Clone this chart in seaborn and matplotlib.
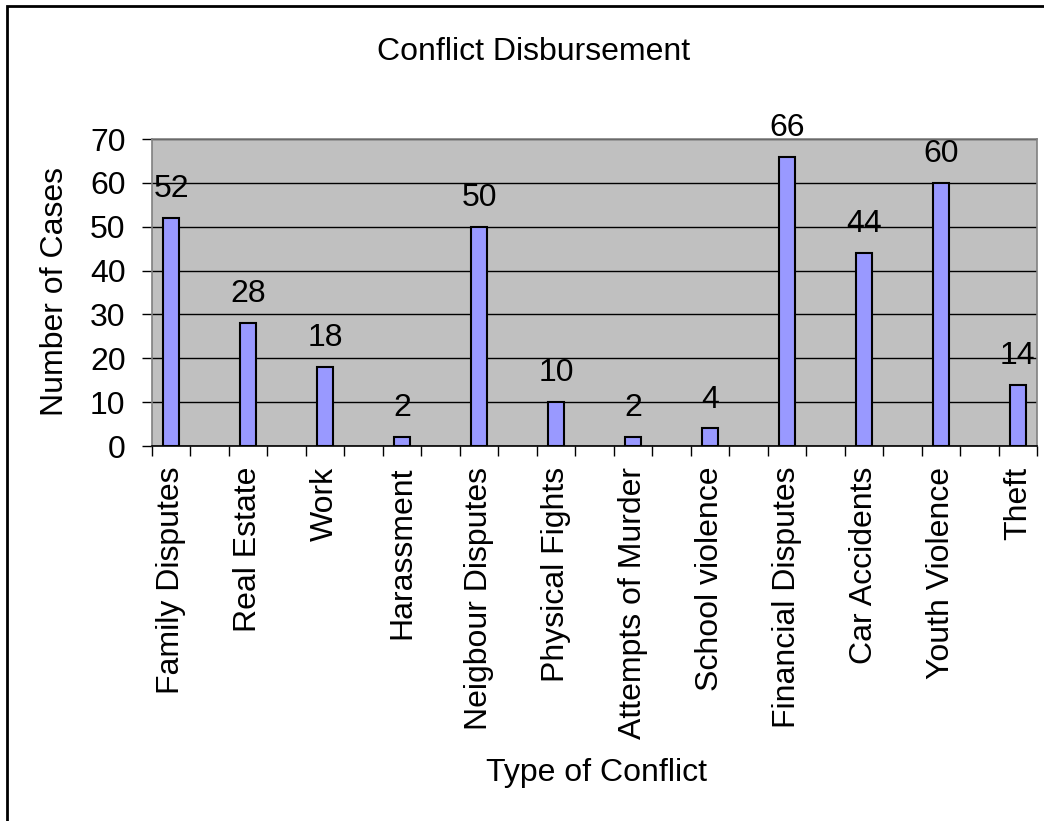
import pandas as pd
import matplotlib
matplotlib.use("Agg")
import matplotlib.pyplot as plt
import seaborn as sns
from matplotlib.patches import Rectangle

# data
categories = ["Family Disputes", "Real Estate", "Work", "Harassment",
              "Neigbour Disputes", "Physical Fights", "Attempts of Murder",
              "School violence", "Financial Disputes", "Car Accidents",
              "Youth Violence", "Theft"]
cases = [52, 28, 18, 2, 50, 10, 2, 4, 66, 44, 60, 14]

df = pd.DataFrame({"conflict": categories, "cases": cases})

# excel chart leaves an empty slot between each category
order = []
for i, c in enumerate(categories):
    order.append(c)
    if i < len(categories) - 1:
        order.append(f"_gap{i}")

sns.set_theme(style="white")
plt.rcParams["font.family"] = ["Liberation Sans", "DejaVu Sans"]
plt.rcParams["text.color"] = "black"
plt.rcParams["xtick.color"] = "black"
plt.rcParams["ytick.color"] = "black"

FS = 23

fig = plt.figure(figsize=(10.44, 8.21), dpi=100)
ax = fig.add_axes([152 / 1044, 1 - 446 / 821, 885 / 1044, 307 / 821])
ax.set_facecolor("#C0C0C0")

sns.barplot(data=df, x="conflict", y="cases", order=order, color="#9999FF",
            saturation=1, width=0.42, edgecolor="black", linewidth=1.5, ax=ax)

ax.set_xlim(-0.5, len(order) - 0.5)
ax.set_ylim(0, 70)
ax.set_yticks(range(0, 71, 10))
ax.tick_params(axis="y", labelsize=FS, length=7, width=1, color="black",
               direction="out", left=True, pad=12)
ax.yaxis.grid(True, color="black", linewidth=1)
ax.set_axisbelow(True)

# tick marks on slot boundaries, labels under the bars
ax.set_xticks([k - 0.5 for k in range(len(order) + 1)])
ax.set_xticklabels([])
ax.tick_params(axis="x", which="major", length=7, width=1, color="black",
               direction="out", bottom=True)
centers = [order.index(c) for c in categories]
ax.set_xticks(centers, minor=True)
ax.set_xticklabels(categories, minor=True, rotation=90, fontsize=FS)
ax.tick_params(axis="x", which="minor", length=0, pad=15)

for side in ["top", "right", "left"]:
    ax.spines[side].set_color("#808080")
    ax.spines[side].set_linewidth(1.2)
ax.spines["bottom"].set_color("black")
ax.spines["bottom"].set_linewidth(1.2)

ax.bar_label(ax.containers[0], fontsize=FS, padding=10)

ax.set_xlabel("")
ax.set_ylabel("")
fig.text(596 / 1044, 1 - 773 / 821, "Type of Conflict", fontsize=FS,
         ha="center", va="center")
fig.text(55 / 1044, 1 - 291 / 821, "Number of Cases", fontsize=FS,
         rotation=90, ha="center", va="center")
fig.text(534 / 1044, 1 - 52 / 821, "Conflict Disbursement", fontsize=FS,
         ha="center", va="center")

# outer chart border (right/bottom edges fall outside the image)
fig.patches.append(Rectangle((7 / 1044, -0.1), 1.2, 1.1 - 6 / 821,
                             transform=fig.transFigure, fill=False,
                             edgecolor="black", linewidth=2))

fig.savefig("out.png", dpi=100)
